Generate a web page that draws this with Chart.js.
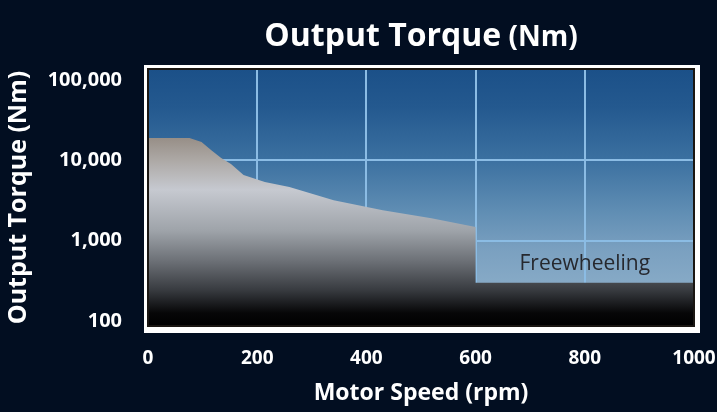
<!DOCTYPE html>
<html>
<head>
<meta charset="utf-8">
<script src="https://cdn.jsdelivr.net/npm/chart.js@4/dist/chart.umd.min.js"></script>
<style>
  body { margin: 0; background: #020e21; }
  #wrap { width: 717px; height: 412px; }
</style>
</head>
<body>
<div id="wrap"><canvas id="torqueChart"></canvas></div>
<script>
// values
const speedRpm = [0, 76, 98, 116, 134, 152, 175, 214, 259, 340, 430, 519, 600, 600, 1000];
const torqueNm = [19000, 19000, 16900, 13400, 10700, 9000, 6560, 5370, 4650, 3200, 2400, 1910, 1480, 300, 300];
const xTicks = [0, 200, 400, 600, 800, 1000];
const yTicks = [100, 1000, 10000, 100000];
const freewheelLabel = 'Freewheeling';
const freewheelAt = [800, 520];

const FONT = "'Open Sans', sans-serif";
const gridBlue = '#8bbce4';

// plot background + white frame, note and title
const framePlugin = {
  id: 'frame',
  beforeDraw(chart) {
    const { ctx, chartArea: a } = chart;
    ctx.save();
    ctx.fillStyle = '#020e21';
    ctx.fillRect(0, 0, chart.width, chart.height);
    ctx.fillStyle = '#ffffff';
    ctx.fillRect(a.left - 4, a.top - 4, a.right - a.left + 10, a.bottom - a.top + 11);
    const g = ctx.createLinearGradient(0, a.top, 0, a.bottom);
    g.addColorStop(0, '#1b5088');
    g.addColorStop(0.15, '#24598f');
    g.addColorStop(0.35, '#3b70a0');
    g.addColorStop(0.55, '#5f8db3');
    g.addColorStop(0.7, '#7aa0c0');
    g.addColorStop(0.85, '#88abc7');
    g.addColorStop(1, '#8fb0cb');
    ctx.fillStyle = g;
    ctx.fillRect(a.left, a.top, a.right - a.left, a.bottom - a.top);
    ctx.restore();
  },
  afterDatasetsDraw(chart) {
    const { ctx, chartArea: a, scales } = chart;
    ctx.save();
    ctx.strokeStyle = '#1a1612';
    ctx.lineWidth = 2;
    ctx.strokeRect(a.left, a.top, a.right - a.left, a.bottom - a.top);
    ctx.fillStyle = '#26282e';
    ctx.font = '21px ' + FONT;
    ctx.textAlign = 'center';
    ctx.textBaseline = 'middle';
    ctx.fillText(freewheelLabel, scales.x.getPixelForValue(freewheelAt[0]), scales.y.getPixelForValue(freewheelAt[1]));
    // title, "(Nm)" smaller
    const t1 = 'Output Torque', t2 = ' (Nm)';
    ctx.fillStyle = '#ffffff';
    ctx.textAlign = 'left';
    ctx.textBaseline = 'alphabetic';
    ctx.font = 'bold 32px ' + FONT;
    const w1 = ctx.measureText(t1).width;
    ctx.font = 'bold 28px ' + FONT;
    const w2 = ctx.measureText(t2).width;
    const x0 = (a.left + a.right) / 2 - (w1 + w2) / 2;
    ctx.font = 'bold 32px ' + FONT;
    ctx.fillText(t1, x0, 46);
    ctx.font = 'bold 28px ' + FONT;
    ctx.fillText(t2, x0 + w1, 46);
    ctx.restore();
  }
};

function torqueFill(context) {
  const a = context.chart.chartArea;
  if (!a) return '#888';
  const g = context.chart.ctx.createLinearGradient(0, a.top, 0, a.bottom);
  g.addColorStop(0, '#8a8078');
  g.addColorStop(0.26, '#958c84');
  g.addColorStop(0.36, '#aeaaa7');
  g.addColorStop(0.47, '#c6c9d0');
  g.addColorStop(0.63, '#9ea3a9');
  g.addColorStop(0.75, '#6b6f75');
  g.addColorStop(0.86, '#383b40');
  g.addColorStop(0.95, '#060607');
  g.addColorStop(1, '#000000');
  return g;
}

new Chart(document.getElementById('torqueChart'), {
  type: 'line',
  data: {
    datasets: [{
      data: speedRpm.map((s, i) => ({ x: s, y: torqueNm[i] })),
      fill: 'start',
      backgroundColor: torqueFill,
      borderWidth: 0,
      pointRadius: 0,
      tension: 0
    }]
  },
  options: {
    responsive: true,
    maintainAspectRatio: false,
    animation: false,
    layout: { padding: { top: 69, right: 23, left: 0, bottom: 0 } },
    plugins: { legend: { display: false }, tooltip: { enabled: false } },
    scales: {
      x: {
        type: 'linear',
        min: 0,
        max: 1000,
        afterBuildTicks: s => { s.ticks = xTicks.map(v => ({ value: v })); },
        afterFit: s => { s.height = 86; s.paddingLeft = 0; s.paddingRight = 0; },
        border: { display: false },
        grid: {
          drawTicks: false,
          lineWidth: 2,
          color: c => (c.tick && c.tick.value > 0 && c.tick.value < 1000) ? gridBlue : 'transparent'
        },
        ticks: {
          color: '#ffffff',
          padding: 21,
          maxRotation: 0,
          font: { family: FONT, size: 19, weight: 'bold' },
          callback: v => String(v)
        },
        title: {
          display: true,
          text: 'Motor Speed (rpm)',
          color: '#ffffff',
          padding: { top: 0, bottom: 5 },
          font: { family: FONT, size: 23, weight: 'bold' }
        }
      },
      y: {
        type: 'logarithmic',
        min: 87,
        max: 137000,
        afterBuildTicks: s => { s.ticks = yTicks.map(v => ({ value: v })); },
        afterFit: s => { s.width = 148; s.paddingTop = 0; s.paddingBottom = 0; },
        border: { display: false },
        grid: {
          drawTicks: false,
          lineWidth: 2,
          color: c => (c.tick && (c.tick.value === 1000 || c.tick.value === 10000)) ? gridBlue : 'transparent'
        },
        ticks: {
          color: '#ffffff',
          padding: 26,
          font: { family: FONT, size: 20, weight: 'bold' },
          callback: v => Number(v).toLocaleString('en-US')
        },
        title: {
          display: true,
          text: 'Output Torque (Nm)',
          color: '#ffffff',
          padding: { top: 4, bottom: 0 },
          font: { family: FONT, size: 25, weight: 'bold' }
        }
      }
    }
  },
  plugins: [framePlugin]
});
</script>
</body>
</html>
